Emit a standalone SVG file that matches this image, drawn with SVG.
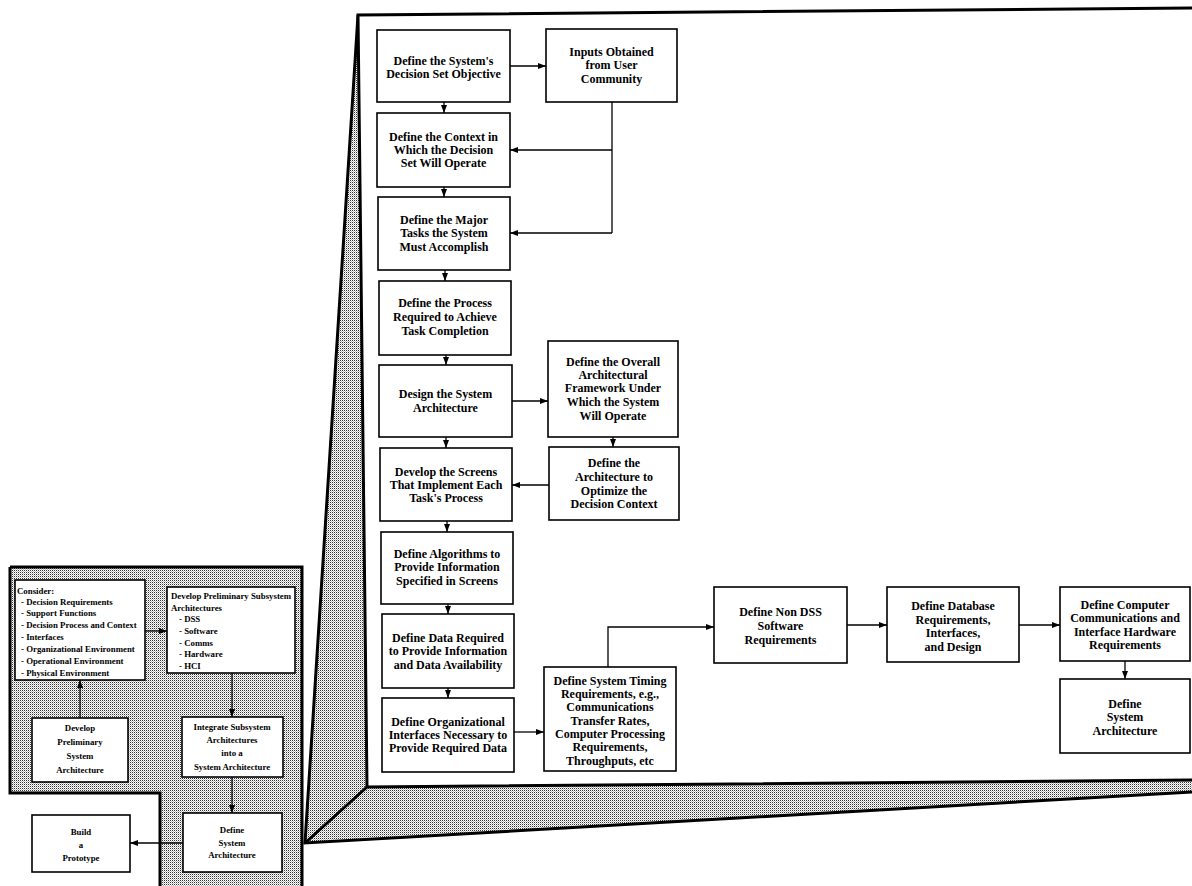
<svg xmlns="http://www.w3.org/2000/svg" width="1192" height="886" viewBox="0 0 1192 886">
<style>
.bx{fill:#fff;stroke:#000;stroke-width:1.6}
.t{font-family:"Liberation Serif","Times New Roman",serif;font-weight:bold;font-size:12px;text-anchor:middle;fill:#000}
.s{font-family:"Liberation Serif","Times New Roman",serif;font-weight:bold;font-size:8.8px;fill:#000}
.sc{text-anchor:middle}
.c{fill:none;stroke:#000;stroke-width:1.3}
.thick{fill:none;stroke:#000;stroke-width:3;stroke-linejoin:miter}
</style>
<defs>
<pattern id="dots" width="2" height="2" patternUnits="userSpaceOnUse">
<rect width="2" height="2" fill="#fff"/>
<rect width="1" height="1" fill="#333"/>
<rect x="1" y="1" width="1" height="1" fill="#bbb"/>
</pattern>
<marker id="ah" viewBox="0 0 8 6" refX="8" refY="3" markerWidth="8" markerHeight="6" markerUnits="userSpaceOnUse" orient="auto">
<path d="M0,0 L8,3 L0,6 z" fill="#000"/>
</marker>
</defs>
<rect width="1192" height="886" fill="#fff"/>

<g id="projection">
<polygon points="358,15 305,843 1192,792 1192,780 367,787" fill="url(#dots)"/>
<path class="thick" d="M358,15 L305,843 L1192,792"/>
<path class="thick" d="M367,787 L305,843"/>
</g>

<g id="left-panel">
<polygon points="10,567 302,567 302,886 160,886 160,793 10,793" fill="url(#dots)"/>
<path class="thick" d="M10,567 H302 V886"/>
<path class="thick" d="M10,567 V793 H160 V886"/>
</g>

<g id="detail-panel">
<polygon points="358,15 1192,8 1192,780 367,787" fill="#fff"/>
<path class="thick" d="M1192,8 L358,15 L367,787 L1192,780"/>
</g>

<g id="connectors">
<line class="c" x1="145" y1="631" x2="167" y2="631" marker-end="url(#ah)"/>
<line class="c" x1="80" y1="718" x2="80" y2="680" marker-end="url(#ah)"/>
<line class="c" x1="232" y1="673" x2="232" y2="717" marker-end="url(#ah)"/>
<line class="c" x1="232" y1="777" x2="232" y2="813" marker-end="url(#ah)"/>
<line class="c" x1="183" y1="843" x2="130" y2="843" marker-end="url(#ah)"/>

<line class="c" x1="510" y1="66" x2="546" y2="66" marker-end="url(#ah)"/>
<line class="c" x1="444" y1="102" x2="444" y2="113" marker-end="url(#ah)"/>
<line class="c" x1="444" y1="187" x2="444" y2="197" marker-end="url(#ah)"/>
<line class="c" x1="445" y1="270" x2="445" y2="281" marker-end="url(#ah)"/>
<line class="c" x1="446" y1="355" x2="446" y2="365" marker-end="url(#ah)"/>
<line class="c" x1="446" y1="437" x2="446" y2="448" marker-end="url(#ah)"/>
<line class="c" x1="447" y1="521" x2="447" y2="532" marker-end="url(#ah)"/>
<line class="c" x1="448" y1="604" x2="448" y2="614" marker-end="url(#ah)"/>
<line class="c" x1="448" y1="688" x2="448" y2="698" marker-end="url(#ah)"/>
<path class="c" d="M612,102 V233"/>
<line class="c" x1="612" y1="150" x2="510" y2="150" marker-end="url(#ah)"/>
<line class="c" x1="612" y1="233" x2="510" y2="233" marker-end="url(#ah)"/>
<line class="c" x1="512" y1="401" x2="548" y2="401" marker-end="url(#ah)"/>
<line class="c" x1="613" y1="437" x2="613" y2="447" marker-end="url(#ah)"/>
<line class="c" x1="549" y1="485" x2="512" y2="485" marker-end="url(#ah)"/>
<line class="c" x1="514" y1="732" x2="544" y2="732" marker-end="url(#ah)"/>
<path class="c" d="M608,667 V627 H714" marker-end="url(#ah)"/>
<line class="c" x1="847" y1="625" x2="887" y2="625" marker-end="url(#ah)"/>
<line class="c" x1="1019" y1="625" x2="1060" y2="625" marker-end="url(#ah)"/>
<line class="c" x1="1125" y1="661" x2="1125" y2="679" marker-end="url(#ah)"/>
</g>

<g id="consider">
<rect class="bx" x="15" y="580" width="130" height="100"/>
<text class="s" x="17" y="594">Consider:</text>
<text class="s" x="21" y="605">- Decision Requirements</text>
<text class="s" x="21" y="616">- Support Functions</text>
<text class="s" x="21" y="628">- Decision Process and Context</text>
<text class="s" x="21" y="640">- Interfaces</text>
<text class="s" x="21" y="652">- Organizational Environment</text>
<text class="s" x="21" y="664">- Operational Environment</text>
<text class="s" x="21" y="676">- Physical Environment</text>
</g>

<g id="dev-prelim-subsystem">
<rect class="bx" x="167" y="587" width="128" height="86"/>
<text class="s" x="171" y="599">Develop Preliminary Subsystem</text>
<text class="s" x="171" y="611">Architectures</text>
<text class="s" x="179" y="622">- DSS</text>
<text class="s" x="179" y="634">- Software</text>
<text class="s" x="179" y="646">- Comms</text>
<text class="s" x="179" y="657">- Hardware</text>
<text class="s" x="179" y="669">- HCI</text>
</g>

<g id="dev-prelim-system">
<rect class="bx" x="32" y="718" width="96" height="64"/>
<text class="s sc" x="80" y="731">Develop</text>
<text class="s sc" x="80" y="745">Preliminary</text>
<text class="s sc" x="80" y="759">System</text>
<text class="s sc" x="80" y="773">Architecture</text>
</g>

<g id="integrate">
<rect class="bx" x="182" y="717" width="101" height="60"/>
<text class="s sc" x="232" y="730">Integrate Subsystem</text>
<text class="s sc" x="232" y="743">Architectures</text>
<text class="s sc" x="232" y="756">into a</text>
<text class="s sc" x="232" y="770">System Architecture</text>
</g>

<g id="define-sys-arch-small">
<rect class="bx" x="183" y="813" width="99" height="59"/>
<text class="s sc" x="232" y="833">Define</text>
<text class="s sc" x="232" y="846">System</text>
<text class="s sc" x="232" y="858">Architecture</text>
</g>

<g id="build-prototype">
<rect class="bx" x="32" y="815" width="98" height="57"/>
<text class="s sc" x="81" y="835">Build</text>
<text class="s sc" x="81" y="848">a</text>
<text class="s sc" x="81" y="861">Prototype</text>
</g>

<g id="objective">
<rect class="bx" x="377" y="30" width="133" height="72"/>
<text class="t" x="443.5" y="65">Define the System's</text>
<text class="t" x="443.5" y="78">Decision Set Objective</text>
</g>

<g id="inputs">
<rect class="bx" x="546" y="29" width="131" height="73"/>
<text class="t" x="611.5" y="56">Inputs Obtained</text>
<text class="t" x="611.5" y="69">from User</text>
<text class="t" x="611.5" y="83">Community</text>
</g>

<g id="context">
<rect class="bx" x="377" y="113" width="133" height="74"/>
<text class="t" x="443.5" y="141">Define the Context in</text>
<text class="t" x="443.5" y="154">Which the Decision</text>
<text class="t" x="443.5" y="167">Set Will Operate</text>
</g>

<g id="tasks">
<rect class="bx" x="378" y="197" width="132" height="73"/>
<text class="t" x="444" y="224">Define the Major</text>
<text class="t" x="444" y="237">Tasks the System</text>
<text class="t" x="444" y="251">Must Accomplish</text>
</g>

<g id="process">
<rect class="bx" x="379" y="281" width="132" height="74"/>
<text class="t" x="445" y="307">Define the Process</text>
<text class="t" x="445" y="321">Required to Achieve</text>
<text class="t" x="445" y="335">Task Completion</text>
</g>

<g id="design">
<rect class="bx" x="379" y="365" width="133" height="72"/>
<text class="t" x="445.5" y="398">Design the System</text>
<text class="t" x="445.5" y="412">Architecture</text>
</g>

<g id="framework">
<rect class="bx" x="548" y="341" width="130" height="96"/>
<text class="t" x="613" y="366">Define the Overall</text>
<text class="t" x="613" y="379">Architectural</text>
<text class="t" x="613" y="392">Framework Under</text>
<text class="t" x="613" y="406">Which the System</text>
<text class="t" x="613" y="420">Will Operate</text>
</g>

<g id="optimize">
<rect class="bx" x="549" y="447" width="130" height="73"/>
<text class="t" x="614" y="467">Define the</text>
<text class="t" x="614" y="481">Architecture to</text>
<text class="t" x="614" y="495">Optimize the</text>
<text class="t" x="614" y="508">Decision Context</text>
</g>

<g id="screens">
<rect class="bx" x="380" y="448" width="132" height="73"/>
<text class="t" x="446" y="476">Develop the Screens</text>
<text class="t" x="446" y="489">That Implement Each</text>
<text class="t" x="446" y="502">Task's Process</text>
</g>

<g id="algorithms">
<rect class="bx" x="381" y="532" width="132" height="72"/>
<text class="t" x="447" y="558">Define Algorithms to</text>
<text class="t" x="447" y="571">Provide Information</text>
<text class="t" x="447" y="585">Specified in Screens</text>
</g>

<g id="data">
<rect class="bx" x="382" y="614" width="132" height="74"/>
<text class="t" x="448" y="642">Define Data Required</text>
<text class="t" x="448" y="655">to Provide Information</text>
<text class="t" x="448" y="669">and Data Availability</text>
</g>

<g id="org-interfaces">
<rect class="bx" x="382" y="698" width="132" height="74"/>
<text class="t" x="448" y="726">Define Organizational</text>
<text class="t" x="448" y="739">Interfaces Necessary to</text>
<text class="t" x="448" y="752">Provide Required Data</text>
</g>

<g id="timing">
<rect class="bx" x="544" y="667" width="132" height="104"/>
<text class="t" x="610" y="685">Define System Timing</text>
<text class="t" x="610" y="698">Requirements, e.g.,</text>
<text class="t" x="610" y="711">Communications</text>
<text class="t" x="610" y="725">Transfer Rates,</text>
<text class="t" x="610" y="738">Computer Processing</text>
<text class="t" x="610" y="751">Requirements,</text>
<text class="t" x="610" y="765">Throughputs, etc</text>
</g>

<g id="non-dss">
<rect class="bx" x="714" y="587" width="133" height="76"/>
<text class="t" x="780.5" y="616">Define Non DSS</text>
<text class="t" x="780.5" y="630">Software</text>
<text class="t" x="780.5" y="644">Requirements</text>
</g>

<g id="database">
<rect class="bx" x="887" y="587" width="132" height="75"/>
<text class="t" x="953" y="610">Define Database</text>
<text class="t" x="953" y="624">Requirements,</text>
<text class="t" x="953" y="637">Interfaces,</text>
<text class="t" x="953" y="651">and Design</text>
</g>

<g id="computer">
<rect class="bx" x="1060" y="587" width="130" height="74"/>
<text class="t" x="1125" y="609">Define Computer</text>
<text class="t" x="1125" y="622">Communications and</text>
<text class="t" x="1125" y="636">Interface Hardware</text>
<text class="t" x="1125" y="649">Requirements</text>
</g>

<g id="define-sys-arch">
<rect class="bx" x="1060" y="679" width="130" height="74"/>
<text class="t" x="1125" y="708">Define</text>
<text class="t" x="1125" y="721">System</text>
<text class="t" x="1125" y="735">Architecture</text>
</g>
</svg>
